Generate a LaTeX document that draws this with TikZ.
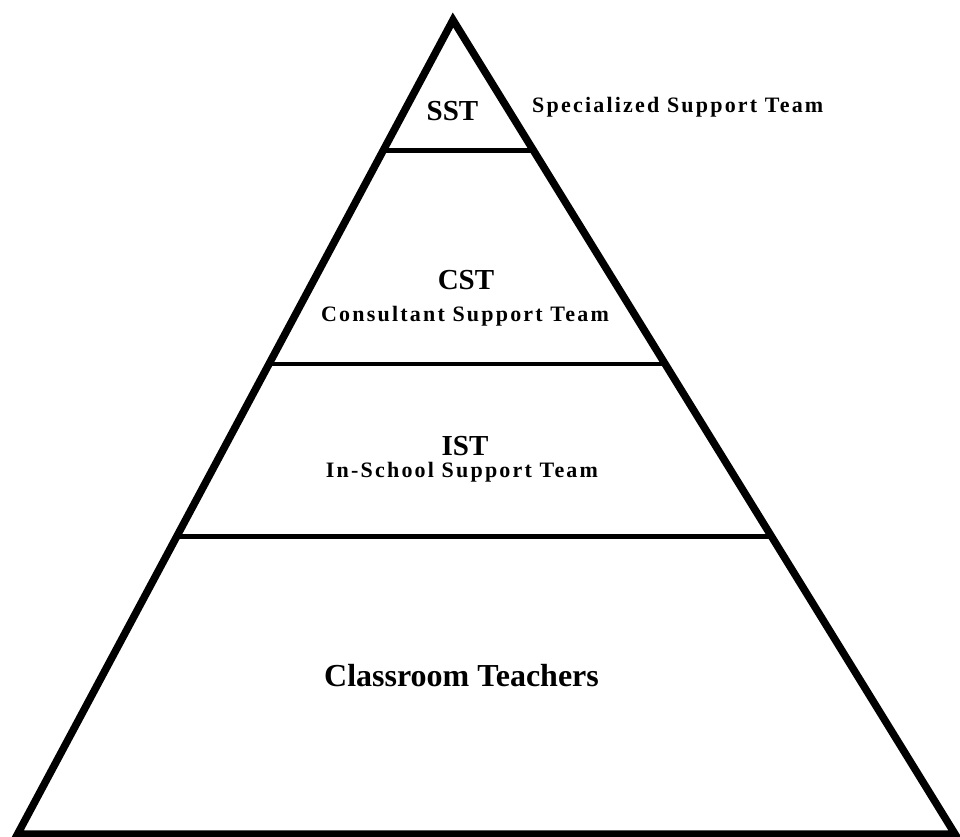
\documentclass[tikz,border=0pt]{standalone}
\usepackage{fontspec}
\setmainfont{Liberation Serif}
\newfontfamily\spacedfont[LetterSpace=10]{Liberation Serif}
\usetikzlibrary{calc}
\tikzset{
  edge/.style={line width=7.5pt, line join=miter},
  divider/.style={line width=4.5pt},
  head/.style={anchor=base, inner sep=0pt, font=\fontsize{29}{31}\selectfont\bfseries},
  sub/.style={anchor=base, inner sep=0pt, font=\spacedfont\fontsize{22}{24}\selectfont\bfseries},
  big/.style={anchor=base, inner sep=0pt, font=\fontsize{32}{34}\selectfont\bfseries}
}
\begin{document}
\begin{tikzpicture}[x=1pt,y=-1pt]
\useasboundingbox (0,0) rectangle (960,836);
\coordinate (apex) at (453,20);
\coordinate (bl) at (17.6,834);
\coordinate (br) at (955,834);
\draw[edge] (apex) -- (bl) -- (br) -- cycle;
\coordinate (l1) at ($(apex)!0.1603!(bl)$);
\coordinate (r1) at ($(apex)!0.1603!(br)$);
\coordinate (l2) at ($(apex)!0.4226!(bl)$);
\coordinate (r2) at ($(apex)!0.4226!(br)$);
\coordinate (l3) at ($(apex)!0.6345!(bl)$);
\coordinate (r3) at ($(apex)!0.6345!(br)$);
\draw[divider] (l1) -- (r1);
\draw[divider] (l2) -- (r2);
\draw[divider] (l3) -- (r3);
\node[head] (sst) at (452.5,120) {SST};
\node[sub, anchor=base west] (sstlabel) at (532,112) {Specialized Support Team};
\node[head] (cst) at (466,289) {CST};
\node[sub] (cstlabel) at (465,321) {Consultant Support Team};
\node[head] (ist) at (465,455) {IST};
\node[sub] (istlabel) at (462,477) {In-School Support Team};
\node[big] (ct) at (461.5,686) {Classroom Teachers};
\end{tikzpicture}
\end{document}
